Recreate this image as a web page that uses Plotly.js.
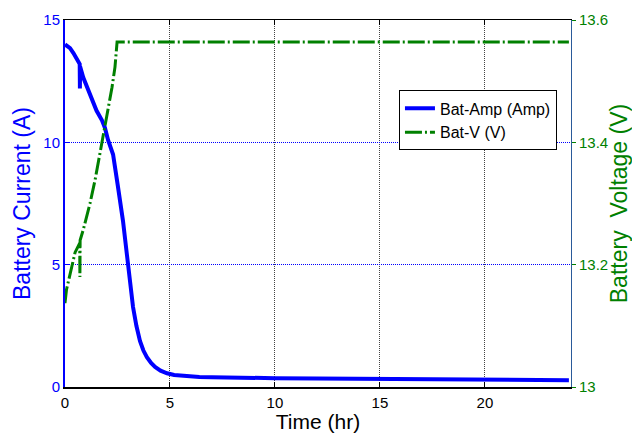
<!DOCTYPE html>
<html>
<head>
<meta charset="utf-8">
<script src="https://cdn.plot.ly/plotly-3.0.1.min.js"></script>
<style>html,body{margin:0;padding:0;background:#fff;}#chart{width:632px;height:433px;}</style>
</head>
<body>
<div id="chart"></div>
<script>
// Battery current (A) vs time (hr)
const timeAmp = [0, 0.1, 0.24, 0.4, 0.57, 0.70, 0.71, 0.72, 0.87, 1.19, 1.5, 1.76, 1.9, 2.05, 2.29, 2.52, 2.76, 2.95, 3.1, 3.24, 3.4, 3.57, 3.73, 3.9, 4.1, 4.29, 4.55, 4.86, 5.2, 5.6, 6.4, 7, 8, 10, 12, 15, 18, 20, 22, 24];
const batAmp  = [14.0, 13.95, 13.85, 13.65, 13.35, 13.2, 12.2, 13.1, 12.65, 12.0, 11.3, 10.9, 10.6, 10.1, 9.5, 8.2, 6.8, 5.4, 4.25, 3.27, 2.5, 1.88, 1.5, 1.22, 0.98, 0.82, 0.67, 0.56, 0.49, 0.45, 0.41, 0.40, 0.38, 0.36, 0.35, 0.33, 0.32, 0.31, 0.30, 0.28];
// Battery voltage (V) vs time (hr)
const timeV = [0, 0.07, 0.48, 0.70, 0.71, 0.72, 0.87, 1.19, 1.43, 1.67, 1.9, 2.05, 2.24, 2.38, 2.48, 5, 10, 15, 20, 24];
const batV  = [13.137, 13.159, 13.22, 13.235, 13.18, 13.24, 13.257, 13.30, 13.338, 13.383, 13.425, 13.453, 13.49, 13.523, 13.564, 13.564, 13.564, 13.564, 13.564, 13.564];
const xTicks = [0, 5, 10, 15, 20];
const yTicks = [0, 5, 10, 15];
const y2Ticks = [13, 13.2, 13.4, 13.6];
const y2TickText = ['13', '13.2', '13.4', '13.6'];

const FONT = 'Arial, "Liberation Sans", sans-serif';
const traces = [
  {x: timeAmp, y: batAmp, name: 'Bat-Amp (Amp)', type: 'scatter', mode: 'lines',
   line: {color: '#0000ff', width: 4}, yaxis: 'y'},
  {x: timeV, y: batV, name: 'Bat-V (V)', type: 'scatter', mode: 'lines',
   line: {color: '#008000', width: 3, dash: '17px,3px,2px,3px'}, yaxis: 'y2'}
];
const layout = {
  width: 632, height: 433,
  margin: {l: 65, r: 61, t: 20, b: 46},
  paper_bgcolor: '#fff', plot_bgcolor: '#fff',
  font: {family: FONT, size: 15, color: '#000'},
  showlegend: true,
  legend: {x: 0.66, y: 0.808, xanchor: 'left', yanchor: 'top', bgcolor: '#fff',
           bordercolor: '#000', borderwidth: 1, font: {family: FONT, size: 16, color: '#000'},
           tracegroupgap: 0},
  xaxis: {range: [0, 24.1], tickvals: xTicks, ticks: 'inside', ticklen: 5, tickcolor: '#000',
          showline: true, linecolor: '#000', linewidth: 1.5, mirror: 'ticks',
          showgrid: true, gridcolor: '#444', griddash: '1px,1px', gridwidth: 1, zeroline: false,
          ticklabelstandoff: 1,
          tickfont: {family: FONT, size: 15, color: '#000'},
          title: {text: 'Time (hr)', font: {family: FONT, size: 21, color: '#000'}, standoff: 0}},
  yaxis: {range: [0, 15], tickvals: yTicks, ticks: 'inside', ticklen: 5, tickcolor: '#0000ff',
          showline: true, linecolor: '#0000ff', linewidth: 2, zeroline: false,
          showgrid: true, gridcolor: '#0000ff', griddash: '1px,1px', gridwidth: 1,
          tickfont: {family: FONT, size: 15, color: '#0000ff'},
          title: {text: 'Battery Current (A)', font: {family: FONT, size: 23, color: '#0000ff'}, standoff: 6}},
  yaxis2: {range: [13, 13.6], overlaying: 'y', side: 'right', tickvals: y2Ticks, ticktext: y2TickText,
           ticks: 'outside', ticklen: 4, tickcolor: '#008000',
           showline: true, linecolor: '#2a5a9a', linewidth: 1, zeroline: false, showgrid: false,
           tickfont: {family: FONT, size: 15, color: '#008000'},
           title: {text: 'Battery  Voltage (V)', font: {family: FONT, size: 23, color: '#008000'}, standoff: 4}}
};
Plotly.newPlot('chart', traces, layout, {displayModeBar: false, staticPlot: true});
</script>
</body>
</html>
